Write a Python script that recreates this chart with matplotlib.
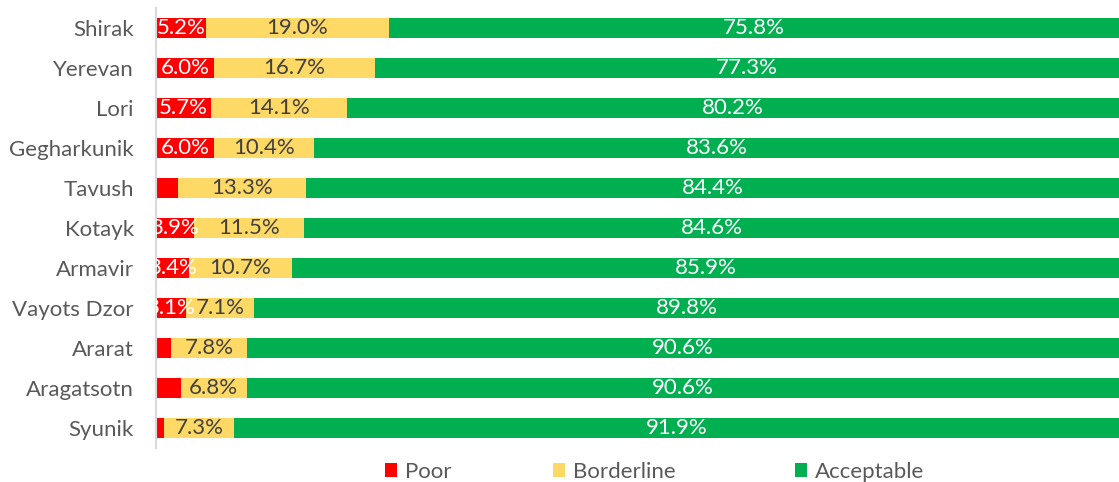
import matplotlib
matplotlib.use("Agg")
import matplotlib.pyplot as plt
from matplotlib.patches import Patch

regions = ["Shirak", "Yerevan", "Lori", "Gegharkunik", "Tavush", "Kotayk",
           "Armavir", "Vayots Dzor", "Ararat", "Aragatsotn", "Syunik"]
poor = [5.2, 6.0, 5.7, 6.0, 2.3, 3.9, 3.4, 3.1, 1.6, 2.6, 0.8]
borderline = [19.0, 16.7, 14.1, 10.4, 13.3, 11.5, 10.7, 7.1, 7.8, 6.8, 7.3]
acceptable = [75.8, 77.3, 80.2, 83.6, 84.4, 84.6, 85.9, 89.8, 90.6, 90.6, 91.9]
series_names = ["Poor", "Borderline", "Acceptable"]
colors = ["#FF0000", "#FFD966", "#00B050"]
label_colors = ["white", "#404040", "white"]

plt.rcParams['font.family'] = ['Lato', 'DejaVu Sans']
fs = 16

fig = plt.figure(figsize=(11.19, 4.82), dpi=100)
ax = fig.add_axes([156/1119, 1 - 448/482, 1 - 156/1119, (448 - 8)/482])

y = list(range(len(regions)))
left = [0.0] * len(regions)
for vals, name, col, lc in zip([poor, borderline, acceptable], series_names, colors, label_colors):
    bars = ax.barh(y, vals, left=left, height=0.5, color=col, label=name)
    for yi, l, v in zip(y, left, vals):
        if v >= 3:
            ax.text(l + v / 2, yi, f"{v:.1f}%", ha='center', va='center',
                    color=lc, fontsize=fs, clip_on=True)
    left = [a + b for a, b in zip(left, vals)]

ax.set_xlim(0, 100)
ax.set_ylim(len(regions) - 0.5, -0.5)
ax.set_yticks(y)
ax.set_yticklabels(regions, fontsize=fs, color="#595959")
ax.tick_params(axis='y', length=0, pad=16)
ax.set_xticks([])
for s in ['top', 'right', 'bottom']:
    ax.spines[s].set_visible(False)
ax.spines['left'].set_color("#D9D9D9")
ax.spines['left'].set_linewidth(1.5)

xs = [385, 553, 795]
for name, col, xp in zip(series_names, colors, xs):
    fig.legend(handles=[Patch(facecolor=col, edgecolor='none')], labels=[name],
               loc='center left', bbox_to_anchor=(xp / 1119, 1 - 472 / 482),
               frameon=False, fontsize=fs, handlelength=0.55, handleheight=0.55,
               handletextpad=0.35, borderpad=0, borderaxespad=0,
               labelcolor="#595959")

fig.savefig("out.png", dpi=100)
